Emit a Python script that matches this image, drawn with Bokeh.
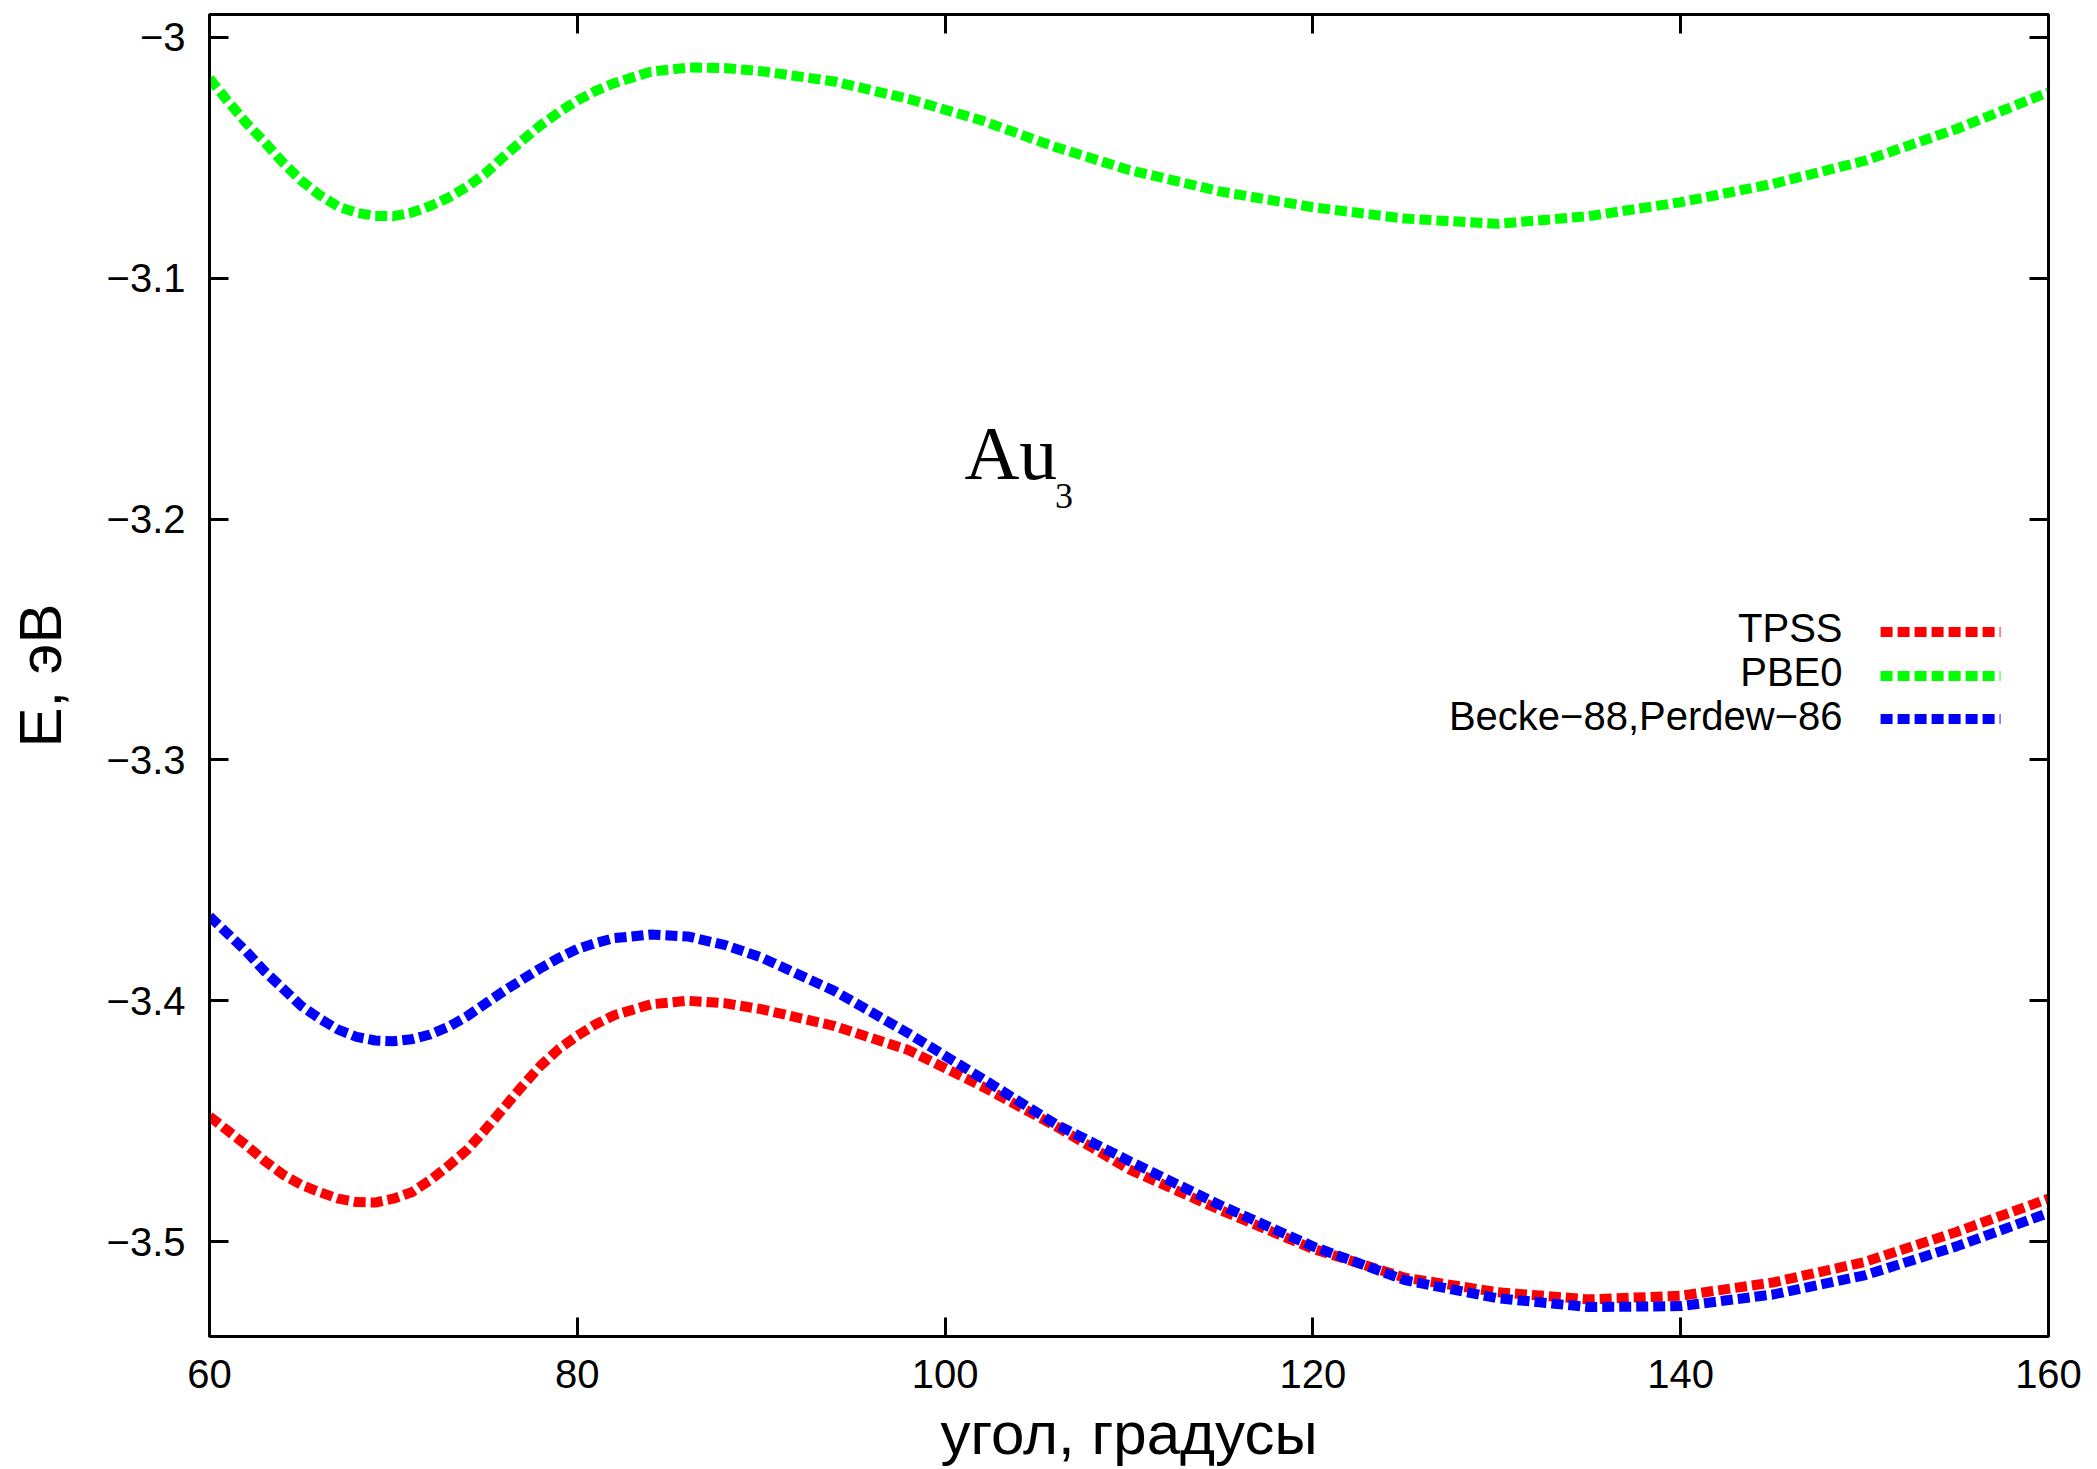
from bokeh.plotting import figure
from bokeh.models import LinearAxis, FixedTicker, Label, Range1d, CustomJSTickFormatter
from bokeh.embed import file_html
from bokeh.resources import INLINE

# ---- data ----
angle = [60, 61, 62, 63, 64, 65, 66, 67, 68, 69, 70, 71, 72, 73, 74, 75, 76, 77, 78, 79,
         80, 81, 82, 84, 86, 88, 90, 94, 98, 102, 106, 110, 115, 120, 125, 130,
         135, 140, 145, 150, 155, 160]

tpss = [-3.4480, -3.4540, -3.4600, -3.4665, -3.4722, -3.4765, -3.4795, -3.4822,
        -3.4836, -3.4838, -3.4822, -3.4795, -3.4745, -3.4685, -3.4620, -3.4535,
        -3.4445, -3.4355, -3.4270, -3.4200, -3.4145, -3.4098, -3.4060, -3.4015,
        -3.4000, -3.4010, -3.4035, -3.4105, -3.4205, -3.4355, -3.4520, -3.4700,
        -3.4870, -3.5030, -3.5150, -3.5210, -3.5240, -3.5225, -3.5170, -3.5085,
        -3.4960, -3.4822]

pbe0 = [-3.0170, -3.0265, -3.0355, -3.0435, -3.0520, -3.0595, -3.0655, -3.0702,
        -3.0728, -3.0741, -3.0742, -3.0727, -3.0700, -3.0665, -3.0620, -3.0565,
        -3.0495, -3.0428, -3.0365, -3.0310, -3.0262, -3.0222, -3.0190, -3.0142,
        -3.0125, -3.0127, -3.0140, -3.0183, -3.0255, -3.0345, -3.0455, -3.0550,
        -3.0640, -3.0705, -3.0752, -3.0774, -3.0742, -3.0684, -3.0608, -3.0512,
        -3.0380, -3.0227]

becke = [-3.3650, -3.3722, -3.3795, -3.3878, -3.3950, -3.4022, -3.4075, -3.4120,
         -3.4150, -3.4165, -3.4168, -3.4160, -3.4140, -3.4108, -3.4065, -3.4012,
         -3.3960, -3.3912, -3.3865, -3.3822, -3.3785, -3.3760, -3.3740, -3.3725,
         -3.3733, -3.3768, -3.3820, -3.3960, -3.4135, -3.4322, -3.4512, -3.4665,
         -3.4850, -3.5020, -3.5160, -3.5235, -3.5272, -3.5268, -3.5220, -3.5140,
         -3.5020, -3.4881]

series_names = ["TPSS", "PBE0", "Becke\u221288,Perdew\u221286"]
series_values = [tpss, pbe0, becke]
series_colors = ["#ff0000", "#00ff00", "#0000ff"]

x_ticks = [60, 80, 100, 120, 140, 160]
y_ticks = [-3.5, -3.4, -3.3, -3.2, -3.1, -3.0]
y_tick_labels = ["\u22123.5", "\u22123.4", "\u22123.3", "\u22123.2", "\u22123.1", "\u22123"]

x_title = "угол, градусы"
y_title = "E, эВ"
molecule = "Au"
molecule_sub = "3"

# ---- styling / layout ----
FONT = "Liberation Sans"
SERIF = "Liberation Serif"
DASH = "12 5"
LW = 10

p = figure(width=2097, height=1469,
           x_range=Range1d(60, 160), y_range=Range1d(-3.53942, -2.99046),
           output_backend="svg", toolbar_location=None,
           min_border_left=209, min_border_right=49,
           min_border_top=14, min_border_bottom=132)
p.xgrid.visible = False
p.ygrid.visible = False
p.background_fill_color = "white"
p.border_fill_color = "white"
p.outline_line_color = "black"
p.outline_line_width = 3
p.outline_line_alpha = 1.0

def style_axis(ax, ticks, show_labels):
    ax.ticker = FixedTicker(ticks=ticks)
    ax.axis_line_color = "black"
    ax.axis_line_width = 3
    ax.major_tick_line_color = "black"
    ax.major_tick_line_width = 3
    ax.major_tick_in = 19
    ax.major_tick_out = 0
    ax.minor_tick_line_color = None
    ax.major_label_text_font = FONT
    ax.major_label_text_color = "black"
    ax.major_label_text_font_size = "40px"
    if not show_labels:
        ax.formatter = CustomJSTickFormatter(code="return '';")
        ax.major_label_standoff = 0

xax = p.xaxis[0]
yax = p.yaxis[0]
style_axis(xax, x_ticks, True)
style_axis(yax, y_ticks, True)
yax.major_label_overrides = {t: l for t, l in zip(y_ticks, y_tick_labels)}
xax.major_label_standoff = 23
yax.major_label_standoff = 24

xax.axis_label = x_title
yax.axis_label = y_title
for ax in (xax, yax):
    ax.axis_label_text_font = FONT
    ax.axis_label_text_font_style = "normal"
    ax.axis_label_text_color = "black"
    ax.axis_label_text_font_size = "60px"
xax.axis_label_standoff = 9
yax.axis_label_standoff = 30

top_ax = LinearAxis()
right_ax = LinearAxis()
style_axis(top_ax, x_ticks, False)
style_axis(right_ax, y_ticks, False)
p.add_layout(top_ax, "above")
p.add_layout(right_ax, "right")

# ---- curves ----
for vals, col in zip(series_values, series_colors):
    p.line(angle, vals, line_color=col, line_width=LW, line_dash=DASH, line_cap="butt")

# ---- key (gnuplot style: text right-aligned, sample on the right) ----
key_text_x = 148.8
key_sample_x = [150.87, 157.39]
key_text_y = [-3.2451, -3.2633, -3.2816]
key_sample_y = [-3.2469, -3.2651, -3.2830]
for name, col, ty, sy in zip(series_names, series_colors, key_text_y, key_sample_y):
    p.add_layout(Label(x=key_text_x, y=ty, text=name, text_align="right",
                       text_baseline="alphabetic", text_font=FONT,
                       text_font_size="40px", text_color="black"))
    p.line(key_sample_x, [sy, sy], line_color=col, line_width=LW, line_dash=DASH, line_cap="butt")

# ---- molecule label Au3 ----
p.add_layout(Label(x=101.05, y=-3.1725, text=molecule, text_align="left",
                   text_baseline="alphabetic", text_font=SERIF,
                   text_font_size="76px", text_color="black"))
p.add_layout(Label(x=105.98, y=-3.1905, text=molecule_sub, text_align="left",
                   text_baseline="alphabetic", text_font=SERIF,
                   text_font_size="36px", text_color="black"))

open("out.html", "w").write(file_html(p, INLINE))
